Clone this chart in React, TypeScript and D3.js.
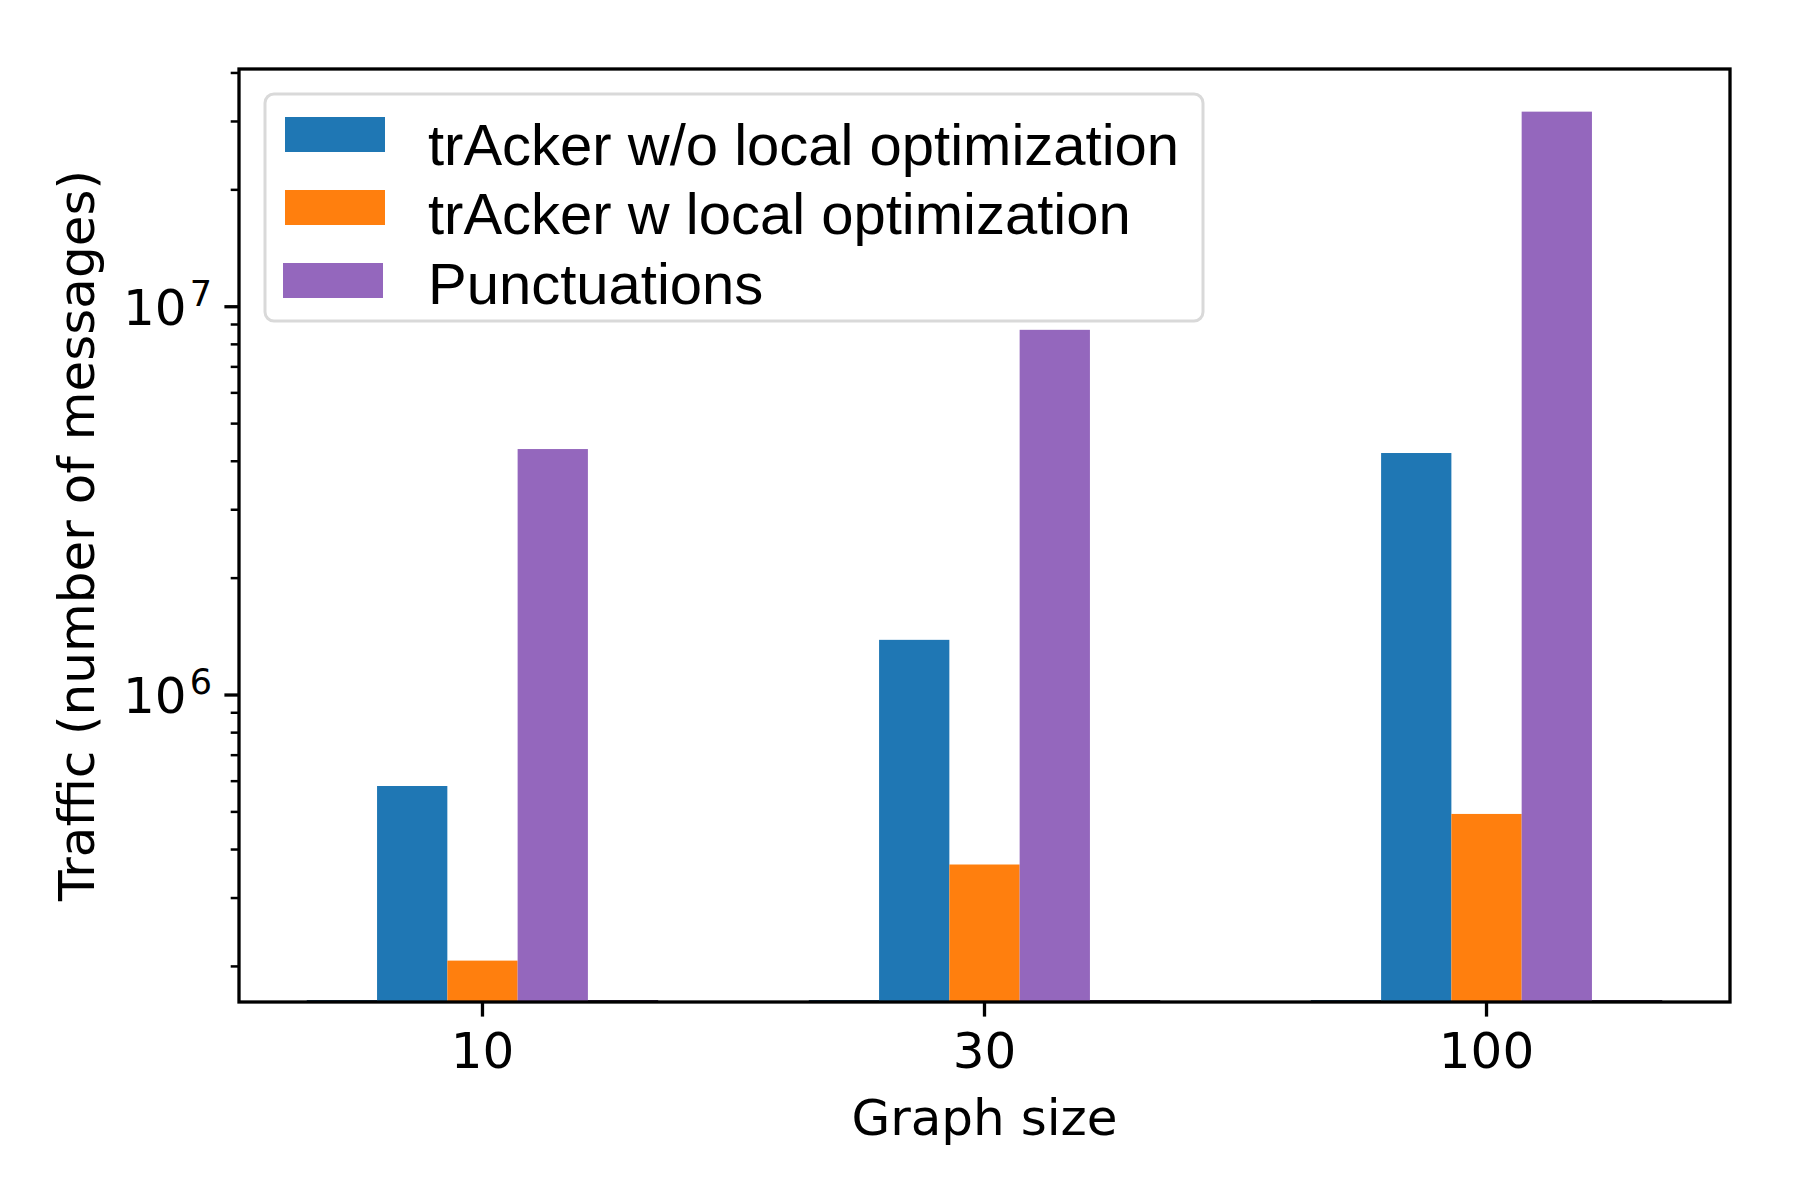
import React from "react";
import * as d3 from "d3";

// graph sizes on the x axis
const graphSizes = ["10", "30", "100"];

// series (number of messages)
const withoutLocalOpt = [5.83e5, 1.387e6, 4.2e6];
const withLocalOpt = [2.07e5, 3.66e5, 4.94e5];
const punctuations = [4.3e6, 8.72e6, 3.18e7];
// empty slots on either side of each group (drawn as flat stubs)
const emptyLeft = [0, 0, 0];
const emptyRight = [0, 0, 0];

const legendLabels = [
  "trAcker w/o local optimization",
  "trAcker w local optimization",
  "Punctuations",
];
const colors = ["#1f77b4", "#ff7f0e", "#9467bd"];
const majorTicks = [1e6, 1e7];

const W = 1800;
const H = 1200;
const left = 239;
const right = 1730;
const top = 69;
const bottom = 1002;
const barW = 0.14;

export default function App() {
  const x = d3.scaleLinear().domain([-0.485, 2.485]).range([left, right]);
  const y = d3.scaleLog().domain([1.6195e5, 4.095e7]).range([bottom, top]);

  const series = [
    { values: emptyLeft, color: "#1e4461", offset: -2 },
    { values: withoutLocalOpt, color: colors[0], offset: -1 },
    { values: withLocalOpt, color: colors[1], offset: 0 },
    { values: punctuations, color: colors[2], offset: 1 },
    { values: emptyRight, color: "#3f2c52", offset: 2 },
  ];

  const minorTicks = y
    .ticks()
    .filter((t) => !majorTicks.includes(t))
    .filter((t) => t >= y.domain()[0] && t <= y.domain()[1]);

  const tickFont = "DejaVu Sans, sans-serif";
  const legendFont = "Liberation Sans, Arial, sans-serif";

  const legendRows = [
    { hy: 117, hx: 285, ty: 165 },
    { hy: 190, hx: 285, ty: 234 },
    { hy: 263, hx: 283, ty: 304 },
  ];

  return (
    <svg
      width={W}
      height={H}
      style={{ position: "absolute", left: 0, top: 0, background: "#fff" }}
    >
      <rect x={0} y={0} width={W} height={H} fill="#fff" />

      {/* bars */}
      {series.map((s, si) =>
        s.values.map((v, gi) => {
          const x0 = x(gi + s.offset * barW - barW / 2);
          const x1 = x(gi + s.offset * barW + barW / 2);
          if (v <= 0) {
            return (
              <rect
                key={`${si}-${gi}`}
                x={x0}
                y={bottom - 2}
                width={x1 - x0}
                height={2}
                fill={s.color}
              />
            );
          }
          return (
            <rect
              key={`${si}-${gi}`}
              x={x0}
              y={y(v)}
              width={x1 - x0}
              height={bottom - y(v)}
              fill={s.color}
            />
          );
        })
      )}

      {/* y minor ticks */}
      {minorTicks.map((t) => (
        <line
          key={`m${t}`}
          x1={left - 8.3}
          x2={left}
          y1={y(t)}
          y2={y(t)}
          stroke="#000"
          strokeWidth={2.5}
        />
      ))}

      {/* y major ticks and labels */}
      {majorTicks.map((t) => (
        <g key={`M${t}`}>
          <line
            x1={left - 14.6}
            x2={left}
            y1={y(t)}
            y2={y(t)}
            stroke="#000"
            strokeWidth={3.3}
          />
          <text
            x={123}
            y={y(t) + 18}
            fontFamily={tickFont}
            fontSize={50}
            fill="#000"
          >
            10
            <tspan fontSize={35} dx={3} dy={-19}>
              {Math.round(Math.log10(t))}
            </tspan>
          </text>
        </g>
      ))}

      {/* x ticks and labels */}
      {graphSizes.map((g, i) => (
        <g key={g}>
          <line
            x1={x(i)}
            x2={x(i)}
            y1={bottom}
            y2={bottom + 14.6}
            stroke="#000"
            strokeWidth={3.3}
          />
          <text
            x={x(i)}
            y={1068}
            textAnchor="middle"
            fontFamily={tickFont}
            fontSize={50}
            fill="#000"
          >
            {g}
          </text>
        </g>
      ))}

      {/* frame */}
      <rect
        x={left}
        y={top}
        width={right - left}
        height={bottom - top}
        fill="none"
        stroke="#000"
        strokeWidth={3.3}
      />

      {/* axis labels */}
      <text
        x={(left + right) / 2}
        y={1135}
        textAnchor="middle"
        fontFamily={tickFont}
        fontSize={50}
        fill="#000"
      >
        Graph size
      </text>
      <text
        transform={`translate(94, ${(top + bottom) / 2}) rotate(-90)`}
        textAnchor="middle"
        fontFamily={tickFont}
        fontSize={50}
        fill="#000"
      >
        Traffic (number of messages)
      </text>

      {/* legend */}
      <rect
        x={265}
        y={94}
        width={938}
        height={227}
        rx={9}
        ry={9}
        fill="#fff"
        fillOpacity={0.8}
        stroke="#d9d9d9"
        strokeWidth={3}
      />
      {legendLabels.map((label, i) => (
        <g key={label}>
          <rect
            x={legendRows[i].hx}
            y={legendRows[i].hy}
            width={100}
            height={35}
            fill={colors[i]}
          />
          <text
            x={428}
            y={legendRows[i].ty}
            fontFamily={legendFont}
            fontSize={58}
            fill="#000"
          >
            {label}
          </text>
        </g>
      ))}
    </svg>
  );
}
